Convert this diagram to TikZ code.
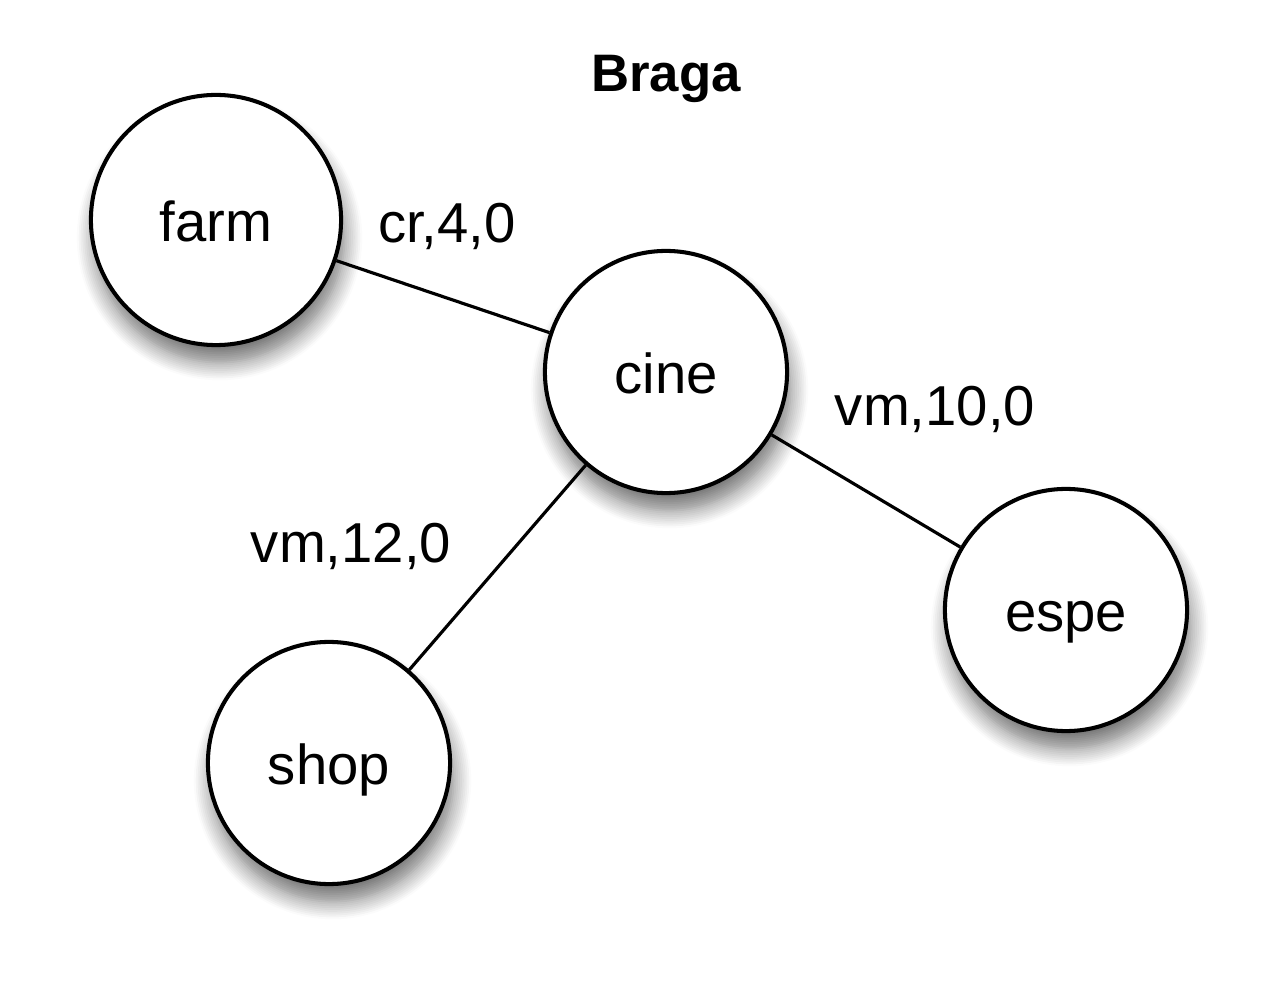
\documentclass[tikz,border=0pt]{standalone}
\usepackage{fontspec}
\setmainfont{Liberation Sans}
\usetikzlibrary{shadows.blur}
\begin{document}
\begin{tikzpicture}[x=0.01cm,y=-0.01cm,
  place/.style={circle,draw=black,line width=1.15pt,fill=white,minimum size=2.42cm,inner sep=0pt,
    font=\fontsize{16}{19}\selectfont,text height=13pt,text depth=1pt,
    blur shadow={shadow xshift=1pt,shadow yshift=-5pt,shadow blur radius=5pt,shadow blur steps=10,shadow opacity=55}},
  lbl/.style={font=\fontsize{16}{19}\selectfont},
  edge/.style={line width=0.9pt}]
\useasboundingbox (0,0) rectangle (1275,991);
\node[font=\fontsize{15}{18}\selectfont\bfseries] (title) at (666,79) {Braga};
\node[place,minimum size=2.5cm] (farm) at (216,220) {farm};
\node[place] (cine) at (666,372) {cine};
\node[place] (espe) at (1066,610) {espe};
\node[place] (shop) at (329,763) {shop};
\draw[edge] (farm) -- (cine);
\draw[edge] (cine) -- (espe);
\draw[edge] (cine) -- (shop);
\node[lbl] (l1) at (447,226) {cr,4,0};
\node[lbl] (l2) at (935,409) {vm,10,0};
\node[lbl] (l3) at (351,546) {vm,12,0};
\end{tikzpicture}
\end{document}
